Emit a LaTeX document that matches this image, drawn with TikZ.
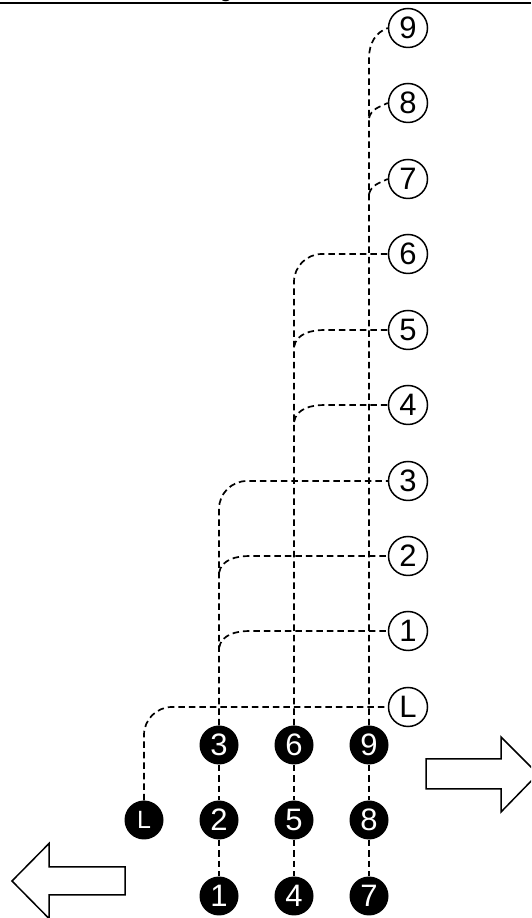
\documentclass[tikz,border=0pt]{standalone}
\usepackage{fontspec}
\setmainfont{Liberation Sans}
\usetikzlibrary{calc}
\begin{document}
\begin{tikzpicture}[x=1pt,y=1pt,
  dl/.style={line width=1.7pt, dash pattern=on 6.5pt off 4pt},
  blk/.style={circle, fill=black, minimum size=39pt, inner sep=0pt, text=white, font=\fontsize{31pt}{31pt}\selectfont},
  lbl/.style={circle, draw, line width=1.5pt, fill=white, minimum size=39pt, inner sep=0pt, font=\fontsize{31pt}{31pt}\selectfont},
  bigarrow/.style={draw, line width=1.5pt, fill=white, line join=miter}]
\useasboundingbox (0,0) rectangle (531,918);
\begin{scope}
\clip (0,0) rectangle (531,918);
% top rule and clipped title fragment
\draw[line width=2.6pt] (0,915) -- (531,915);
\node[anchor=base, inner sep=0pt, font=\bfseries\fontsize{20pt}{20pt}\selectfont] (title) at (226,920) {g};

% black circles
\node[blk] (cL) at (144,98) {\fontsize{25pt}{25pt}\selectfont L};
\node[blk] (c3) at (219,173) {3};
\node[blk] (c2) at (219,98) {2};
\node[blk] (c1) at (219,22) {1};
\node[blk] (c6) at (294,173) {6};
\node[blk] (c5) at (294,98) {5};
\node[blk] (c4) at (294,22) {4};
\node[blk] (c9) at (369,173) {9};
\node[blk] (c8) at (369,98) {8};
\node[blk] (c7) at (369,22) {7};

% label circles
\node[lbl] (lL) at (408,211) {L};
\node[lbl] (l1) at (408,287) {1};
\node[lbl] (l2) at (408,362) {2};
\node[lbl] (l3) at (408,437) {3};
\node[lbl] (l4) at (408,513) {4};
\node[lbl] (l5) at (408,588) {5};
\node[lbl] (l6) at (408,664) {6};
\node[lbl] (l7) at (408,739) {7};
\node[lbl] (l8) at (408,815) {8};
\node[lbl] (l9) at (408,890) {9};

% links between black circles
\draw[dl] (c3.south) -- (c2.north);
\draw[dl] (c2.south) -- (c1.north);
\draw[dl] (c6.south) -- (c5.north);
\draw[dl] (c5.south) -- (c4.north);
\draw[dl] (c9.south) -- (c8.north);
\draw[dl] (c8.south) -- (c7.north);

% main trunks
\draw[dl, rounded corners=28pt] (cL.north) |- (lL.west);
\draw[dl, rounded corners=28pt] (c3.north) |- (l3.west);
\draw[dl, rounded corners=28pt] (c6.north) |- (l6.west);
\coordinate (t9) at ($(c9.north |- l9.west)+(0,-29)$);
\draw[dl] (c9.north) -- (t9) to[out=88,in=200] (l9.west);

% branches
\draw[dl] ($(c3.north |- l1.west)+(0,-17)$) to[out=80,in=180] ++(31,17) -- (l1.west);
\draw[dl] ($(c3.north |- l2.west)+(0,-17)$) to[out=80,in=180] ++(31,17) -- (l2.west);
\draw[dl] ($(c6.north |- l4.west)+(0,-17)$) to[out=80,in=180] ++(31,17) -- (l4.west);
\draw[dl] ($(c6.north |- l5.west)+(0,-17)$) to[out=80,in=180] ++(31,17) -- (l5.west);
\draw[dl] ($(c9.north |- l7.west)+(0,-15)$) to[out=75,in=205] (l7.west);
\draw[dl] ($(c9.north |- l8.west)+(0,-15)$) to[out=75,in=205] (l8.west);

% big arrows
\draw[bigarrow] (426,159) -- (501,159) -- (501,181) -- (538,144) -- (501,106) -- (501,129) -- (426,129) -- cycle;
\draw[bigarrow] (12,37) -- (49,74.5) -- (49,51) -- (125,51) -- (125,23) -- (49,23) -- (49,-0.5) -- cycle;
\end{scope}
\end{tikzpicture}
\end{document}
